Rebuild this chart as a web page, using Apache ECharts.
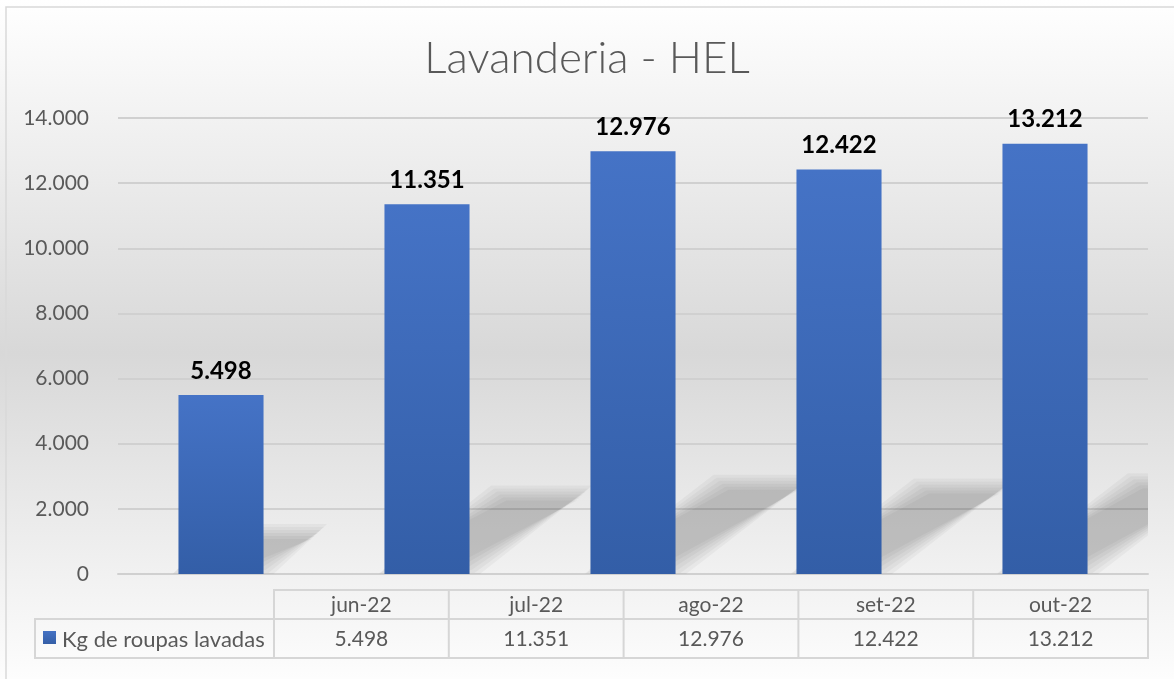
<!DOCTYPE html>
<html>
<head>
<meta charset="utf-8">
<script src="https://cdn.jsdelivr.net/npm/echarts@6/dist/echarts.min.js"></script>
<style>
  html, body { margin: 0; padding: 0; }
  #main { width: 1174px; height: 679px; }
</style>
</head>
<body>
<div id="main"></div>
<script>
// meses e kg de roupas lavadas
var meses = ['jun-22', 'jul-22', 'ago-22', 'set-22', 'out-22'];
var kgLavados = [5498, 11351, 12976, 12422, 13212];
var nomeSerie = 'Kg de roupas lavadas';
var titulo = 'Lavanderia - HEL';

// 12976 -> "12.976"
function fmt(v) {
    return String(v).replace(/\B(?=(\d{3})+(?!\d))/g, '.');
}

var myChart = echarts.init(document.getElementById('main'));

var cinza = '#595959';
var linhaTabela = '#d6d6d6';
var fonte = 'Lato, "Open Sans", sans-serif';

// tabela de dados embaixo do grafico
var tabX0 = 35, tabCol0 = 274, tabX1 = 1148;
var tabY0 = 590, tabY1 = 619, tabY2 = 658;
var colW = (tabX1 - tabCol0) / meses.length;
var tabela = [];

// linha do cabecalho (meses)
tabela.push({
    type: 'rect',
    shape: { x: tabCol0, y: tabY0, width: tabX1 - tabCol0, height: tabY1 - tabY0 },
    style: { fill: 'none', stroke: linhaTabela, lineWidth: 2 }
});
// linha dos valores
tabela.push({
    type: 'rect',
    shape: { x: tabX0, y: tabY1, width: tabX1 - tabX0, height: tabY2 - tabY1 },
    style: { fill: 'none', stroke: linhaTabela, lineWidth: 2 }
});
for (var i = 0; i < meses.length; i++) {
    var cx = tabCol0 + colW * i;
    tabela.push({
        type: 'line',
        shape: { x1: cx, y1: tabY0, x2: cx, y2: tabY2 },
        style: { stroke: linhaTabela, lineWidth: 2 }
    });
    tabela.push({
        type: 'text',
        x: cx + colW / 2, y: (tabY0 + tabY1) / 2 + 1,
        style: { text: meses[i], fill: cinza, font: '21px ' + fonte, align: 'center', verticalAlign: 'middle' }
    });
    tabela.push({
        type: 'text',
        x: cx + colW / 2, y: (tabY1 + tabY2) / 2 + 1,
        style: { text: fmt(kgLavados[i]), fill: cinza, font: '21px ' + fonte, align: 'center', verticalAlign: 'middle' }
    });
}
// legenda dentro da tabela
tabela.push({
    type: 'rect',
    shape: { x: 43, y: 631, width: 13, height: 13 },
    style: {
        fill: new echarts.graphic.LinearGradient(0, 0, 0, 1, [
            { offset: 0, color: '#4472c4' }, { offset: 1, color: '#345ea6' }
        ])
    }
});
tabela.push({
    type: 'text',
    x: 62, y: (tabY1 + tabY2) / 2 + 1,
    style: { text: nomeSerie, fill: cinza, font: '22px ' + fonte, align: 'left', verticalAlign: 'middle' }
});
// borda do grafico
tabela.push({
    type: 'rect',
    shape: { x: 6, y: 7, width: 1190, height: 700 },
    style: { fill: 'none', stroke: '#d9d9d9', lineWidth: 1.5 }
});

var options = {
    animation: false,
    backgroundColor: new echarts.graphic.LinearGradient(0, 0, 0, 1, [
        { offset: 0, color: '#ffffff' },
        { offset: 0.52, color: '#d8d8d8' },
        { offset: 1, color: '#fdfdfd' }
    ]),
    title: {
        text: titulo,
        left: 'center',
        top: 32,
        textStyle: { color: cinza, fontSize: 44, fontWeight: 300, fontFamily: fonte }
    },
    grid: { left: 118, right: 26, top: 118, bottom: 105 },
    xAxis: {
        type: 'category',
        data: meses,
        axisLine: { show: true, lineStyle: { color: '#d0d0d0', width: 2 } },
        axisTick: { show: false },
        axisLabel: { show: false }
    },
    yAxis: {
        type: 'value',
        min: 0,
        max: 14000,
        interval: 2000,
        axisLine: { show: false },
        axisTick: { show: false },
        splitLine: { lineStyle: { color: '#d0d0d0', width: 2 } },
        axisLabel: {
            color: cinza,
            fontSize: 21,
            fontFamily: fonte,
            margin: 29,
            formatter: function (v) { return fmt(v); }
        }
    },
    series: [{
        // sombra em perspectiva atras das colunas (camadas para simular o desfoque)
        type: 'custom',
        silent: true,
        z: 1,
        data: kgLavados.map(function (v, i) { return [i, v]; }),
        renderItem: function (params, api) {
            var base = api.coord([api.value(0), 0]);
            var topo = api.coord([api.value(0), api.value(1)]);
            var bw = api.size([1, 0])[0] * 0.413;
            var h = base[1] - topo[1];
            var dx = 0.31 * h, dy = 0.65 * dx;
            var y0 = base[1] - 6;
            var xl = base[0] - bw / 2, xr = base[0] + bw / 2;
            var cs = params.coordSys;
            var camadas = [];
            [-7, -4, -1, 2, 5, 8].forEach(function (d) {
                camadas.push({
                    type: 'polygon',
                    shape: {
                        points: [[xl - d, y0 + d], [xr + d, y0 + d],
                                 [xr + dx + d, y0 - dy - d], [xl + dx - d, y0 - dy - d]]
                    },
                    style: { fill: 'rgba(0,0,0,0.035)' }
                });
            });
            return {
                type: 'group',
                children: camadas,
                clipPath: { type: 'rect', shape: { x: cs.x, y: cs.y, width: cs.width, height: cs.height } }
            };
        }
    }, {
        name: nomeSerie,
        type: 'bar',
        z: 3,
        barWidth: '41.3%',
        data: kgLavados,
        itemStyle: {
            color: new echarts.graphic.LinearGradient(0, 0, 0, 1, [
                { offset: 0, color: '#4573c6' },
                { offset: 1, color: '#335ea7' }
            ])
        },
        label: {
            show: true,
            position: 'top',
            distance: 12,
            color: '#000',
            fontSize: 24,
            fontWeight: 'bold',
            fontFamily: fonte,
            formatter: function (p) { return fmt(p.value); }
        }
    }],
    graphic: tabela
};

myChart.setOption(options, true);
</script>
</body>
</html>
